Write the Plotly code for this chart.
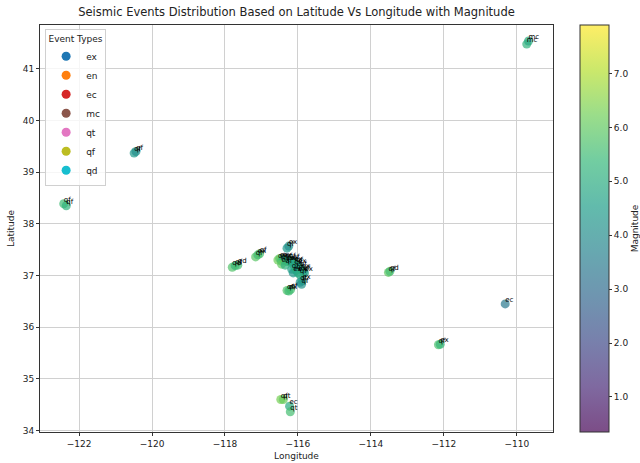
import plotly.graph_objects as go

# ---- data ----
longitude = [-109.73, -109.68,
             -120.49, -120.44,
             -122.42, -122.35,
             -117.80, -117.72, -117.65,
             -117.16, -117.10, -117.05,
             -116.30, -116.25,
             -116.55, -116.50, -116.45, -116.40, -116.35, -116.30, -116.25, -116.20,
             -116.15, -116.10, -116.05, -116.00, -115.95, -115.90, -115.85, -115.82,
             -116.17, -116.13, -116.05, -116.00, -115.95, -116.45, -116.35, -116.10,
             -116.30, -116.25, -116.20,
             -115.94, -115.88, -115.90,
             -113.52, -113.48,
             -112.15, -112.10,
             -110.32,
             -116.47, -116.40,
             -116.23,
             -116.21]
latitude = [41.48, 41.54,
            39.37, 39.40,
            38.39, 38.35,
            37.16, 37.19, 37.20,
            37.36, 37.40, 37.42,
            37.53, 37.57,
            37.30, 37.33, 37.28, 37.32, 37.30, 37.27, 37.30, 37.26,
            37.28, 37.25, 37.22, 37.20, 37.15, 37.12, 37.08, 37.05,
            37.12, 37.05, 37.10, 37.05, 37.02, 37.22, 37.20, 37.18,
            36.71, 36.70, 36.73,
            36.87, 36.90, 36.83,
            37.06, 37.08,
            35.66, 35.67,
            36.45,
            34.60, 34.60,
            34.47,
            34.36]
magnitude = [5.2, 4.9,
             4.4, 4.1,
             5.5, 5.2,
             5.8, 5.4, 5.6,
             5.9, 5.5, 5.7,
             4.4, 4.1,
             6.2, 5.9, 5.6, 5.3, 5.0, 5.4, 4.8, 5.2,
             4.6, 5.0, 4.7, 4.9, 4.6, 5.1, 4.8, 4.6,
             4.6, 4.4, 4.9, 4.7, 5.0, 6.0, 5.1, 4.8,
             5.8, 5.5, 5.6,
             4.4, 4.6, 4.2,
             6.0, 5.6,
             5.7, 5.4,
             3.4,
             6.3, 6.1,
             4.9,
             5.6]
event_type = ["mc", "mc",
              "qf", "qf",
              "qf", "qf",
              "qd", "qf", "qd",
              "qf", "ex", "qf",
              "qf", "ex",
              "qf", "ex", "qf", "ex", "qf", "ex", "qf", "ex",
              "qf", "ex", "qf", "ex", "qf", "ex", "qf", "ex",
              "qf", "ex", "qf", "ex", "qf", "ex", "qf", "ex",
              "qf", "ex", "qf",
              "qf", "ex", "qf",
              "qf", "qd",
              "qf", "ex",
              "ec",
              "qf", "qt",
              "ec",
              "qt"]

legend_types = ["ex", "en", "ec", "mc", "qt", "qf", "qd"]
legend_colors = ["#1f77b4", "#ff7f0e", "#d62728", "#8c564b", "#e377c2", "#bcbd22", "#17becf"]

mag_min, mag_max = 0.35, 7.9
cbar_ticks = [1, 2, 3, 4, 5, 6, 7]

# viridis blended with white at alpha 0.7 (as matplotlib draws with alpha)
viridis = ["#440154", "#482878", "#3e4989", "#31688e", "#26828e", "#1f9e89",
           "#35b779", "#6ece58", "#b5de2b", "#fde725"]
def blend(h, a=0.7):
    r, g, b = int(h[1:3], 16), int(h[3:5], 16), int(h[5:7], 16)
    return "rgb(%d,%d,%d)" % tuple(round(a * c + (1 - a) * 255) for c in (r, g, b))
scale = [[i / (len(viridis) - 1), blend(c)] for i, c in enumerate(viridis)]

font = "DejaVu Sans"
fig = go.Figure()

fig.add_trace(go.Scatter(
    x=longitude, y=latitude, mode="markers",
    marker=dict(size=9, color=magnitude, colorscale="Viridis", cmin=mag_min, cmax=mag_max,
                opacity=0.7, line=dict(width=0)),
    showlegend=False, hoverinfo="skip"))

fig.add_trace(go.Scatter(
    x=longitude, y=latitude, mode="text", text=event_type, textposition="top right",
    textfont=dict(size=7, color="black", family=font),
    showlegend=False, hoverinfo="skip"))

# colorbar carrier
fig.add_trace(go.Scatter(
    x=[None], y=[None], mode="markers",
    marker=dict(color=[mag_min], colorscale=scale, cmin=mag_min, cmax=mag_max, showscale=True,
                colorbar=dict(
                    x=1.052, xanchor="left", xpad=0, y=0.5, yanchor="middle", ypad=0,
                    len=1, lenmode="fraction", thickness=29, thicknessmode="pixels",
                    outlinecolor="#333", outlinewidth=1,
                    tickvals=cbar_ticks, ticktext=["%.1f" % t for t in cbar_ticks],
                    ticks="outside", ticklen=3, tickcolor="#333",
                    tickfont=dict(size=9, family=font, color="#222"),
                    title=dict(text="Magnitude", side="right", font=dict(size=9, family=font, color="#222")))),
    showlegend=False, hoverinfo="skip"))

for t, c in zip(legend_types, legend_colors):
    fig.add_trace(go.Scatter(x=[None], y=[None], mode="markers", name=t,
                             marker=dict(size=9, color=c)))

axis_common = dict(showline=True, mirror=True, linecolor="#333", linewidth=1,
                   showgrid=True, gridcolor="#d0d0d0", gridwidth=1, zeroline=False,
                   ticks="outside", ticklen=3, tickcolor="#333",
                   tickfont=dict(size=9, family=font, color="#222"))

fig.update_layout(
    width=640, height=463,
    margin=dict(l=40, r=87, t=25, b=31, autoexpand=False),
    paper_bgcolor="white", plot_bgcolor="white",
    title=dict(text="Seismic Events Distribution Based on Latitude Vs Longitude with Magnitude",
               x=(40 + 553) / 2 / 640, xanchor="center", y=0.975, yanchor="middle",
               font=dict(size=11.5, family=font, color="#222")),
    xaxis=dict(range=[-123.07, -109.01], tickvals=[-122, -120, -118, -116, -114, -112, -110],
               ticktext=["\u2212122", "\u2212120", "\u2212118", "\u2212116", "\u2212114", "\u2212112", "\u2212110"],
               title=dict(text="Longitude", font=dict(size=9, family=font, color="#222"), standoff=4),
               **axis_common),
    yaxis=dict(range=[33.97, 41.85], tickvals=[34, 35, 36, 37, 38, 39, 40, 41],
               title=dict(text="Latitude", font=dict(size=9, family=font, color="#222"), standoff=6),
               **axis_common),
    legend=dict(x=0.01, y=0.99, xanchor="left", yanchor="top",
                bgcolor="rgba(255,255,255,0.8)", bordercolor="#d0d0d0", borderwidth=1,
                font=dict(size=9, family=font, color="#222"),
                title=dict(text="Event Types", side="top center", font=dict(size=9, family=font, color="#222")),
                itemwidth=30, tracegroupgap=0),
    font=dict(family=font),
)

fig.write_html("out.html", config={"displayModeBar": False},
               post_script="document.body.style.margin='0px';document.body.style.overflow='hidden';")
